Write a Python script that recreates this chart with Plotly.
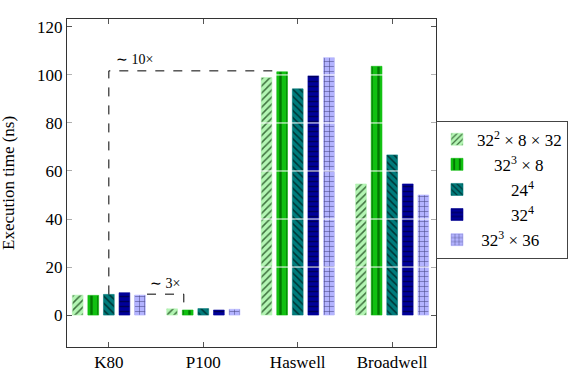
import plotly.graph_objects as go

categories = ["K80", "P100", "Haswell", "Broadwell"]
series_names = ["32<sup>2</sup> × 8 × 32", "32<sup>3</sup> × 8", "24<sup>4</sup>", "32<sup>4</sup>", "32<sup>3</sup> × 36"]
values_s1 = [8.3, 2.6, 98.9, 54.6]
values_s2 = [8.2, 2.1, 101.3, 103.6]
values_s3 = [8.6, 2.7, 94.2, 66.7]
values_s4 = [9.3, 2.1, 99.7, 54.6]
values_s5 = [8.3, 2.4, 107.2, 50.0]
y_ticks = [0, 20, 40, 60, 80, 100, 120]

all_values = [values_s1, values_s2, values_s3, values_s4, values_s5]
fills = ["#b3f5b3", "#10c010", "#007b7b", "#00009a", "#b3b3ff"]
fgs = ["#2a5a2a", "#006a00", "#002828", "#00004a", "#30306a"]
shapes_p = ["/", "|", "\\", "-", "+"]
sizes = [5, 7, 5, 5, 5]
solid = [0.3, 0.35, 0.3, 0.3, 0.2]
legend_pad = [0, 4, 8, 8, 1]

FONT = "Liberation Serif"
x_pos = list(range(len(categories)))

fig = go.Figure()
for i in range(5):
    fig.add_trace(go.Bar(
        x=x_pos, y=all_values[i], name="\u00a0" * legend_pad[i] + series_names[i],
        marker=dict(color=fills[i],
                    line=dict(color=fills[i], width=0.6),
                    pattern=dict(shape=shapes_p[i], fgcolor=fgs[i], size=sizes[i],
                                 solidity=solid[i], fillmode="overlay", fgopacity=0.85)),
    ))

shapes = []
for t in y_ticks:
    if 0 < t < 120:
        shapes.append(dict(type="line", xref="paper", x0=0, x1=1, yref="y", y0=t, y1=t,
                           line=dict(color="white", width=1), layer="above"))

slot = 0.165
k80_ref = values_s3[0]
hs_ref = values_s2[2]
dash = dict(color="black", width=1, dash="dash")
shapes.append(dict(type="path", xref="x", yref="y",
                   path=f"M 0 {k80_ref} L 0 {hs_ref + 0.4} L {2 - 1.35*slot} {hs_ref + 0.4}",
                   line=dash, layer="above"))
p_top = values_s5[0] + 0.4
shapes.append(dict(type="path", xref="x", yref="y",
                   path=f"M {2.45*slot} {p_top} L {1 - 1.25*slot} {p_top} L {1 - 1.25*slot} 5",
                   line=dash, layer="above"))

annotations = [
    dict(x=0.05, y=hs_ref + 1.2, xref="x", yref="y", text="∼ 10×", showarrow=False,
         xanchor="left", yanchor="bottom", font=dict(family=FONT, size=14, color="black")),
    dict(x=(2.45*slot + 1 - 1.25*slot)/2, y=p_top + 0.6, xref="x", yref="y", text="∼ 3×", showarrow=False,
         xanchor="center", yanchor="bottom", font=dict(family=FONT, size=14, color="black")),
    dict(x=-0.16, y=0.5, xref="paper", yref="paper", text="Execution time (ns)", showarrow=False,
         textangle=-90, xanchor="center", yanchor="middle", font=dict(family=FONT, size=17, color="black")),
]

fig.update_layout(
    template="none",
    width=580, height=380,
    margin=dict(l=67, r=134, t=19, b=33),
    paper_bgcolor="white", plot_bgcolor="white",
    barmode="group", bargap=0.175, bargroupgap=0.31,
    font=dict(family=FONT, size=17, color="black"),
    showlegend=True,
    legend=dict(x=1.0, y=0.69, xanchor="left", yanchor="top",
                bordercolor="#444", borderwidth=1, bgcolor="white",
                font=dict(family=FONT, size=17, color="black"),
                tracegroupgap=0, itemwidth=30),
    shapes=shapes, annotations=annotations,
)
fig.update_xaxes(range=[-0.443, 3.464], tickvals=x_pos, ticktext=categories,
                 tickfont=dict(family=FONT, size=17, color="black"),
                 showline=True, linecolor="#333", linewidth=1, mirror="ticks",
                 ticks="inside", ticklen=5, tickcolor="#555", showgrid=False, zeroline=False)
fig.update_yaxes(range=[-13.3, 123.3], tickvals=y_ticks,
                 tickfont=dict(family=FONT, size=17, color="black"),
                 showline=True, linecolor="#333", linewidth=1, mirror="ticks",
                 ticks="inside", ticklen=5, tickcolor="#555", showgrid=False, zeroline=False)

fig.write_html("out.html")
